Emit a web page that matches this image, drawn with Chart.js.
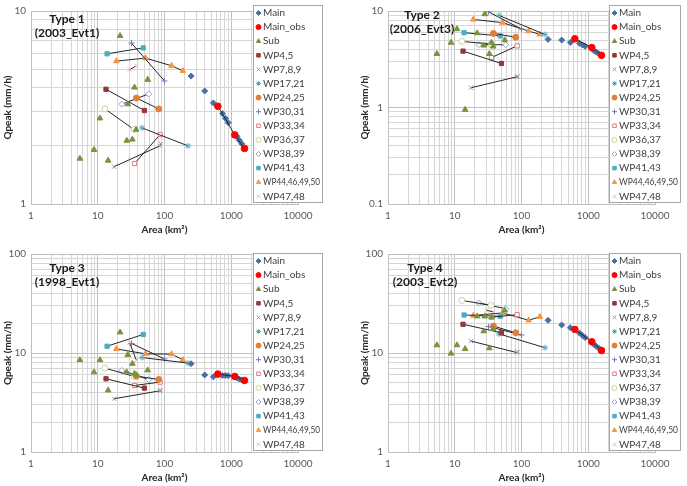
<!DOCTYPE html>
<html>
<head>
<meta charset="utf-8">
<script src="https://cdn.jsdelivr.net/npm/chart.js@4.4.1/dist/chart.umd.min.js"></script>
<style>
  body { margin: 0; background: #fff; width: 687px; height: 486px; overflow: hidden; position: relative; }
  canvas { position: absolute; }
</style>
</head>
<body>
<canvas id="c1" width="343" height="243" style="left:0;top:0"></canvas>
<canvas id="c2" width="342" height="243" style="left:345px;top:0"></canvas>
<canvas id="c3" width="343" height="243" style="left:0;top:243px"></canvas>
<canvas id="c4" width="342" height="243" style="left:345px;top:243px"></canvas>
<script>
// series in legend order
const seriesNames = ['Main', 'Main_obs', 'Sub', 'WP4,5', 'WP7,8,9', 'WP17,21', 'WP24,25', 'WP30,31',
  'WP33,34', 'WP36,37', 'WP38,39', 'WP41,43', 'WP44,46,49,50', 'WP47,48'];
const panelLabels = [['Type 1', '(2003_Evt1)'], ['Type 2', '(2006_Evt3)'], ['Type 3', '(1998_Evt1)'], ['Type 4', '(2003_Evt2)']];
const xTickValues = [1, 10, 100, 1000, 10000];
const yTickValues = [[1, 10], [0.1, 1, 10], [1, 10, 100], [1, 10, 100]];

// drainage area (km2) of every point
const areaMain = [250, 400, 540, 740, 820, 900, 1220, 1320, 1440];
const areaMainObs = [630, 1130, 1580];
const areaSub = [5.4, 8.8, 10.8, 14.3, 21.6, 27.2, 28.2, 33, 35.5, 37.6, 56];
const areaWP4_5 = [13.3, 50];
const areaWP7_8_9 = [17.5, 85, 88];
const areaWP17_21 = [46, 225];
const areaWP24_25 = [38, 82];
const areaWP30_31 = [32, 100];
const areaWP33_34 = [35.5, 86];
const areaWP36_37 = [12.8, 35];
const areaWP38_39 = [23, 58];
const areaWP41_43 = [13.8, 48];
const areaWP44_50 = [19, 52, 128, 188];
const areaWP47_48 = [30, 38];

// Qpeak (mm/h), one row per panel (Type 1..4)
const qMain = [
  [4.6, 3.85, 3.34, 2.94, 2.78, 2.64, 2.24, 2.14, 2.05],
  [5.08, 5.0, 4.73, 4.62, 4.45, 4.3, 3.88, 3.75, 3.61],
  [7.8, 6.0, 5.75, 5.93, 5.93, 5.9, 5.6, 5.45, 5.35],
  [21.4, 19.2, 18.0, 15.9, 15.0, 14.3, 12.2, 11.7, 11.2]];
const qMainObs = [[3.21, 2.28, 1.94], [5.15, 4.18, 3.47], [6.12, 5.8, 5.28], [17.3, 13.0, 10.6]];
const qSub = [
  [1.72, 1.91, 2.78, 1.68, 7.43, 2.13, 3.29, 2.16, 4.02, 2.43, 4.41],
  [3.6, 4.7, 6.5, 0.95, 5.9, 4.4, 9.3, 3.6, 4.7, 4.3, 5.0],
  [8.5, 6.4, 8.5, 4.2, 16.2, 6.4, 9.6, 7.8, 6.2, 6.0, 6.7],
  [12.0, 9.9, 12.0, 11.0, 23.5, 16.6, 23.5, 11.2, 23.0, 17.5, 27.0]];
const qWP4_5 = [[3.93, 3.05], [3.84, 2.86], [5.49, 4.42], [19.5, 16.0]];
const qWP7_8_9 = [[1.56, 2.0, 2.05], [1.6, 2.08, 2.1], [3.45, 4.15, 4.2], [13.2, 10.1, 10.3]];
const qWP17_21 = [[2.48, 2.0], [9.0, 5.7], [9.0, 7.9], [15.6, 11.3]];
const qWP24_25 = [[3.54, 3.11], [5.86, 5.35], [5.84, 5.4], [18.7, 16.0]];
const qWP30_31 = [[6.82, 4.34], [9.8, 6.5], [12.5, 8.7], [18.5, 15.2]];
const qWP33_34 = [[1.62, 2.29], [3.29, 4.35], [4.7, 5.08], [23, 24.4]];
const qWP36_37 = [[3.11, 2.43], [4.84, 4.55], [7.03, 5.8], [34, 30.3]];
const qWP38_39 = [[3.29, 3.72], [4.47, 4.47], [6.66, 5.4], [32, 28]];
const qWP41_43 = [[6.0, 6.44], [5.96, 5.52], [11.7, 15.4], [24.2, 23.5]];
const qWP44_50 = [[5.5, 5.7, 5.2, 4.9], [8.18, 7.57, 6.2, 5.73], [11.0, 9.8, 9.75, 8.53], [23.9, 25.4, 21.4, 23.2]];
const qWP47_48 = [[4.97, 5.2], [4.5, 4.6], [12.7, 8.4], [27, 26]];

const areas = [areaMain, areaMainObs, areaSub, areaWP4_5, areaWP7_8_9, areaWP17_21, areaWP24_25, areaWP30_31,
  areaWP33_34, areaWP36_37, areaWP38_39, areaWP41_43, areaWP44_50, areaWP47_48];
const values = [qMain, qMainObs, qSub, qWP4_5, qWP7_8_9, qWP17_21, qWP24_25, qWP30_31,
  qWP33_34, qWP36_37, qWP38_39, qWP41_43, qWP44_50, qWP47_48];

// marker look per series
const styles = [
  { shape: 'rectRot', fill: '#4A6FA5', edge: '#4A6FA5', r: 3 },
  { shape: 'circle', fill: '#FF0000', edge: '#FF0000', r: 3.3 },
  { shape: 'triangle', fill: '#77933C', edge: '#77933C', r: 3.3 },
  { shape: 'rect', fill: '#953735', edge: '#953735', r: 3 },
  { shape: 'crossRot', fill: '#fff', edge: '#9A93B3', r: 3 },
  { shape: 'star', fill: '#fff', edge: '#4BACC6', r: 3 },
  { shape: 'circle', fill: '#E0803A', edge: '#E0803A', r: 3 },
  { shape: 'cross', fill: '#fff', edge: '#6E7FB8', r: 3 },
  { shape: 'rect', fill: '#fff', edge: '#E07A7A', r: 3 },
  { shape: 'circle', fill: '#fff', edge: '#C4D79B', r: 3 },
  { shape: 'rectRot', fill: '#fff', edge: '#8FA7C9', r: 3 },
  { shape: 'rect', fill: '#4BACC6', edge: '#4BACC6', r: 3 },
  { shape: 'triangle', fill: '#F79646', edge: '#F79646', r: 3.3 },
  { shape: 'crossRot', fill: '#fff', edge: '#E6B9B8', r: 3 }
];

const panels = [
  { id: 'c1', padL: 0, padR: 45, padT: 5, xH: 39, xTitlePad: 7, box: [253, 5, 69, 197], lx: 67, ly: 19 },
  { id: 'c2', padL: 12, padR: 32, padT: 5, xH: 39, xTitlePad: 7, box: [264, 5, 71, 197], lx: 77, ly: 15 },
  { id: 'c3', padL: 0, padR: 45, padT: 10, xH: 34, xTitlePad: 2, box: [253, 10, 69, 197], lx: 67, ly: 25 },
  { id: 'c4', padL: 12, padR: 32, padT: 10, xH: 34, xTitlePad: 2, box: [264, 10, 71, 197], lx: 80, ly: 25 }
];

Chart.defaults.font.family = 'Lato, "DejaVu Sans", sans-serif';
Chart.defaults.font.size = 10;
Chart.defaults.color = '#595959';

const isDecade = v => Math.abs(Math.log10(v) - Math.round(Math.log10(v))) < 1e-9;

// 1..9 x 10^n grid ticks between min and max
function logTicks(scale) {
  const ticks = [];
  for (let e = Math.round(Math.log10(scale.min)); e < Math.round(Math.log10(scale.max)); e++) {
    for (let m = 1; m < 10; m++) ticks.push({ value: Number((m * Math.pow(10, e)).toPrecision(6)) });
  }
  ticks.push({ value: scale.max });
  scale.ticks = ticks;
}

const gridColor = c => (c.tick && isDecade(c.tick.value)) ? '#C0C0C0' : '#D6D6D6';

// legend box and panel label drawn over the plot
const deco = {
  id: 'deco',
  afterDraw(chart, args, o) {
    const ctx = chart.ctx;
    ctx.save();
    ctx.fillStyle = '#1A1A1A';
    ctx.font = 'bold 12px Lato, sans-serif';
    ctx.textAlign = 'center';
    ctx.textBaseline = 'middle';
    o.label.forEach((t, i) => ctx.fillText(t, o.lx, o.ly + i * 14.5));

    const [bx, by, bw, bh] = o.box;
    ctx.fillStyle = '#fff';
    ctx.fillRect(bx, by, bw, bh);
    ctx.strokeStyle = '#A6A6A6';
    ctx.lineWidth = 1;
    ctx.strokeRect(bx + 0.5, by + 0.5, bw, bh);
    ctx.font = '10px Lato, sans-serif';
    ctx.textAlign = 'left';
    chart.data.datasets.forEach((ds, i) => {
      const y = by + 8 + i * 14.1;
      ctx.fillStyle = ds.pointBackgroundColor;
      ctx.strokeStyle = ds.pointBorderColor;
      ctx.lineWidth = 1;
      Chart.helpers.drawPoint(ctx, { pointStyle: ds.pointStyle, radius: 2.5, rotation: 0, borderWidth: 1 }, bx + 5.5, y);
      ctx.fillStyle = '#404040';
      ctx.fillText(ds.label, bx + 10, y, bw - 12);
    });
    ctx.restore();
  }
};

panels.forEach((p, n) => {
  const datasets = seriesNames.map((name, i) => ({
    label: name,
    data: areas[i].map((a, k) => ({ x: a, y: values[i][n][k] })),
    showLine: i !== 0 && i !== 2,
    borderColor: '#262626',
    borderWidth: 1,
    pointStyle: styles[i].shape,
    pointRadius: styles[i].r,
    pointBackgroundColor: styles[i].fill,
    pointBorderColor: styles[i].edge,
    pointBorderWidth: 1,
    order: i === 1 ? -1 : 0
  }));
  const yT = yTickValues[n];

  new Chart(document.getElementById(p.id), {
    type: 'scatter',
    data: { datasets },
    plugins: [deco],
    options: {
      responsive: false,
      animation: false,
      layout: { padding: { left: p.padL, right: p.padR, top: p.padT, bottom: 0 } },
      plugins: {
        legend: { display: false },
        tooltip: { enabled: false },
        deco: { label: panelLabels[n], lx: p.lx, ly: p.ly, box: p.box }
      },
      scales: {
        x: {
          type: 'logarithmic',
          min: xTickValues[0],
          max: xTickValues[xTickValues.length - 1],
          afterBuildTicks: logTicks,
          afterFit: s => { s.height = p.xH; },
          grid: { color: gridColor, drawTicks: false },
          border: { color: '#BFBFBF' },
          ticks: { autoSkip: false, maxRotation: 0, padding: 6, callback: v => isDecade(v) ? String(v) : '' },
          title: { display: true, text: 'Area (km²)', color: '#262626', font: { weight: 'bold', size: 10 }, padding: { top: 0, bottom: p.xTitlePad } }
        },
        y: {
          type: 'logarithmic',
          min: yT[0],
          max: yT[yT.length - 1],
          afterBuildTicks: logTicks,
          afterFit: s => { s.width = 31; },
          grid: { color: gridColor, drawTicks: false },
          border: { color: '#BFBFBF' },
          ticks: { autoSkip: false, padding: 5, callback: v => isDecade(v) ? String(v) : '' },
          title: { display: true, text: 'Qpeak (mm/h)', color: '#262626', font: { weight: 'bold', size: 10 }, padding: { top: 2, bottom: 0 } }
        }
      }
    }
  });
});
</script>
</body>
</html>
